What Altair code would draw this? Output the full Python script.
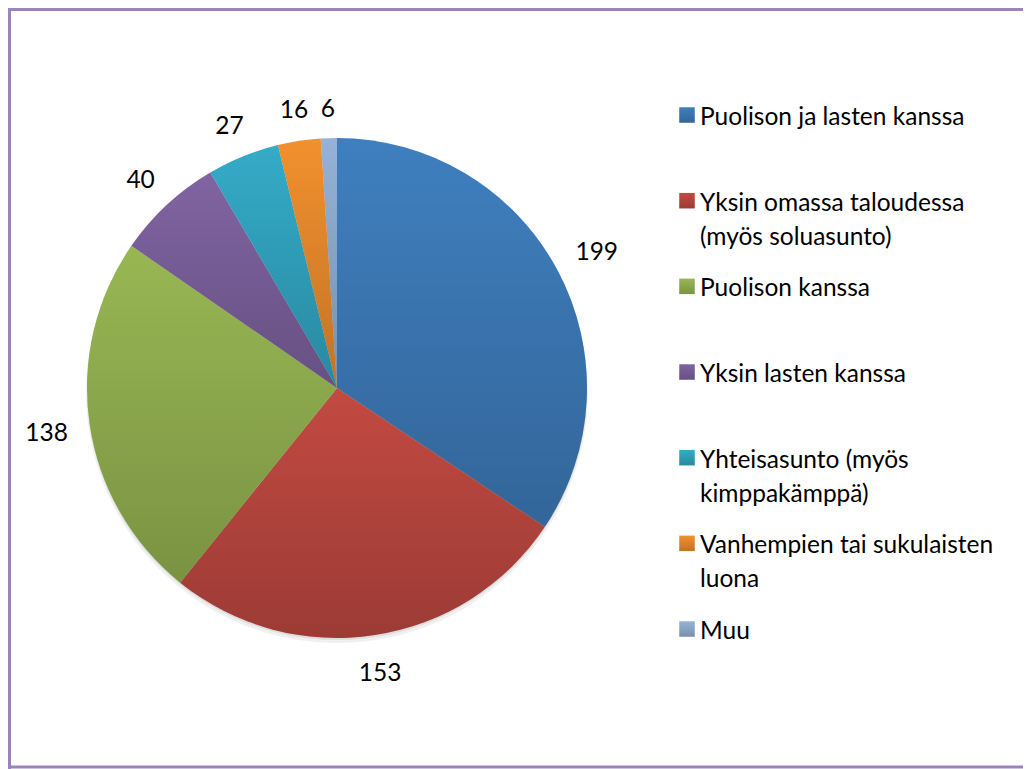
import altair as alt
import pandas as pd

categories = [
    "Puolison ja lasten kanssa",
    "Yksin omassa taloudessa (myös soluasunto)",
    "Puolison kanssa",
    "Yksin lasten kanssa",
    "Yhteisasunto (myös kimppakämppä)",
    "Vanhempien tai sukulaisten luona",
    "Muu",
]
legend_labels = [
    "Puolison ja lasten kanssa",
    "Yksin omassa taloudessa\n(myös soluasunto)",
    "Puolison kanssa",
    "Yksin lasten kanssa",
    "Yhteisasunto (myös\nkimppakämppä)",
    "Vanhempien tai sukulaisten\nluona",
    "Muu",
]
values = [199, 153, 138, 40, 27, 16, 6]
colors = ["#3F7FBF", "#C24A42", "#98B753", "#8064A2", "#34ABC8", "#F2902E", "#95B3D7"]

df = pd.DataFrame({
    "cat": categories,
    "label": legend_labels,
    "value": values,
    "order": list(range(len(values))),
})

FONT = "Lato"
FS = 24.5
CX, CY, R = 329, 380, 250

shade = alt.LinearGradient(
    gradient="linear",
    stops=[
        alt.GradientStop(color="rgba(0,0,0,0)", offset=0),
        alt.GradientStop(color="rgba(0,0,0,0.2)", offset=1),
    ],
    x1=0, x2=0, y1=0, y2=1,
)

base = alt.Chart(df)
theta = alt.Theta("value:Q", stack=True)
order = alt.Order("order:Q")
color = alt.Color("cat:N", scale=alt.Scale(domain=categories, range=colors), legend=None)

one = alt.Chart(pd.DataFrame({"k": [0]}))
shadow1 = one.mark_arc(radius=R + 1, theta=0, theta2=6.2832, color="#000000", opacity=0.06).encode(
    x=alt.value(CX), y=alt.value(CY + 4)
)
shadow2 = one.mark_arc(radius=R, theta=0, theta2=6.2832, color="#000000", opacity=0.08).encode(
    x=alt.value(CX), y=alt.value(CY + 2)
)

arcs = base.mark_arc(radius=R).encode(
    theta=theta, order=order, color=color, x=alt.value(CX), y=alt.value(CY)
)
arcs_shade = base.mark_arc(radius=R, fill=shade).encode(
    theta=theta, order=order, x=alt.value(CX), y=alt.value(CY)
)
labels = base.transform_window(
    cum="sum(value)", sort=[alt.SortField("order")]
).transform_joinaggregate(
    total="sum(value)"
).transform_calculate(
    midv="datum.cum - datum.value / 2",
    w="length(toString(datum.value)) * 13.5",
).transform_calculate(
    mid="datum.midv / datum.total * 2 * PI"
).transform_calculate(
    rad=f"{R} + 22 + abs(sin(datum.mid)) * datum.w / 2 + abs(cos(datum.mid)) * 10"
).mark_text(font=FONT, fontSize=FS, color="#000000", dy=4).encode(
    theta=alt.Theta("midv:Q", stack=None),
    text="value:Q",
    radius=alt.Radius("rad:Q", scale=None),
    x=alt.value(CX), y=alt.value(CY)
)

ly = alt.Y("order:Q", scale=alt.Scale(domain=[0, 6], range=[107, 621]), axis=None)
leg_sq = base.mark_square(size=240, opacity=1).encode(
    x=alt.value(679), y=ly, color=color
)
leg_sq_shade = base.mark_square(size=240, opacity=1, fill=shade).encode(
    x=alt.value(679), y=ly
)
leg_txt = base.mark_text(
    align="left", baseline="alphabetic", dy=10, lineBreak="\n", lineHeight=34,
    font=FONT, fontSize=FS, color="#000000"
).encode(x=alt.value(692), y=ly, text="label:N")

bcol = "#9B84BD"
b_top = one.mark_rule(color=bcol, strokeWidth=3).encode(
    x=alt.value(0), x2=alt.value(1015), y=alt.value(1.5)
)
b_left = one.mark_rule(color=bcol, strokeWidth=3).encode(
    x=alt.value(1.5), y=alt.value(0), y2=alt.value(761)
)
b_bottom = one.mark_rule(color=bcol, strokeWidth=3).encode(
    x=alt.value(0), x2=alt.value(1015), y=alt.value(759)
)

chart = alt.layer(
    shadow1, shadow2, arcs, arcs_shade, labels, leg_sq, leg_sq_shade, leg_txt,
    b_top, b_left, b_bottom
).properties(
    width=1015, height=761, padding=0, autosize=alt.AutoSizeParams(type="none")
).configure_view(strokeWidth=0, strokeOpacity=0)

chart.save("out.html", embed_options={"renderer": "svg", "actions": False})
